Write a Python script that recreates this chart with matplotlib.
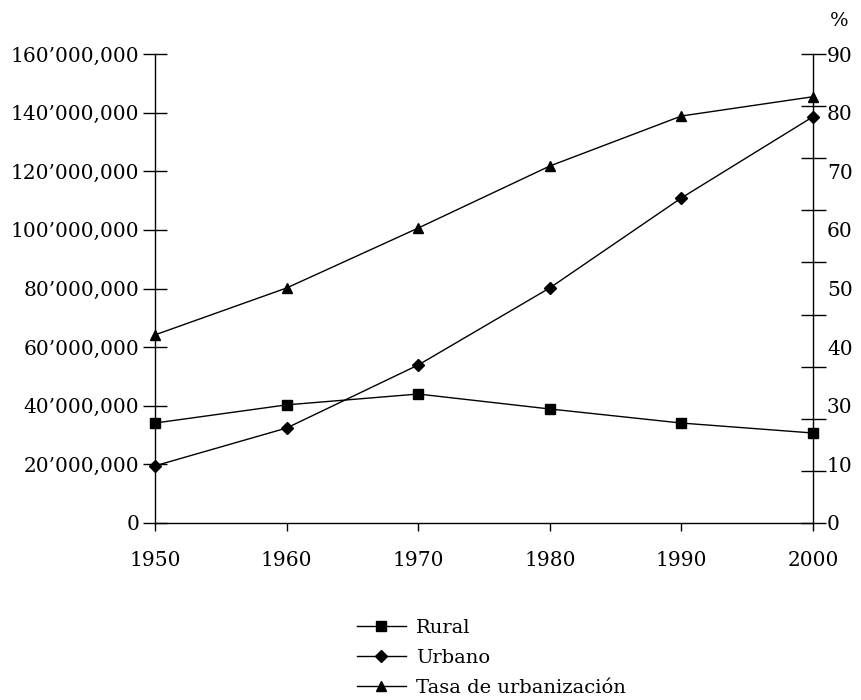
import numpy as np
import matplotlib
matplotlib.use("Agg")
import matplotlib.pyplot as plt
from matplotlib.ticker import FuncFormatter, FixedLocator, FixedFormatter, NullFormatter

plt.rcParams['font.family'] = ['DejaVu Serif']
plt.rcParams['font.size'] = 14.5

years = [1950, 1960, 1970, 1980, 1990, 2000]
rural = [34.1e6, 40.3e6, 44.0e6, 38.9e6, 34.1e6, 30.7e6]
urbano = [19.5e6, 32.4e6, 53.9e6, 80.2e6, 110.9e6, 138.6e6]
tasa = [36.1, 45.1, 56.6, 68.5, 78.1, 81.8]

left_ticks = np.arange(0, 160e6 + 1, 20e6)
right_ticks = np.arange(0, 91, 10)
# labels printed on the right side (as in the source, "20" is missing)
right_labels = ['0', '10', '30', '40', '50', '60', '70', '80', '90']

fig = plt.figure(figsize=(8.62, 7), dpi=100)
ax = fig.add_axes([155 / 862, 1 - 523 / 700, (813 - 155) / 862, (523 - 54) / 700])
ax2 = ax.twinx()

lw = 1.0
l1, = ax.plot(years, rural, color='black', lw=lw, marker='s', ms=6.5, clip_on=False, zorder=3, label='Rural')
l2, = ax.plot(years, urbano, color='black', lw=lw, marker='D', ms=6, clip_on=False, zorder=3, label='Urbano')
l3, = ax2.plot(years, tasa, color='black', lw=lw, marker='^', ms=7.5, clip_on=False, zorder=3,
               label='Tasa de urbanización')

ax.set_xlim(1950, 2000)
ax.set_ylim(0, 160e6)
ax2.set_ylim(0, 90)
ax.set_xticks(years)

ax.yaxis.set_major_locator(FixedLocator(left_ticks))
ax.yaxis.set_major_formatter(FuncFormatter(
    lambda v, p: '0' if v == 0 else '{:,}'.format(int(v)).replace(',', '’', 1)))

# right side: labels sit at the left-axis positions, tick marks at every 10 %
ax2.yaxis.remove_overlapping_locs = False
ax2.yaxis.set_major_locator(FixedLocator(np.arange(len(right_labels)) * 90 / 8))
ax2.yaxis.set_major_formatter(FixedFormatter(right_labels))
ax2.yaxis.set_minor_locator(FixedLocator(right_ticks))
ax2.yaxis.set_minor_formatter(NullFormatter())

for a in (ax, ax2):
    a.spines['top'].set_visible(False)
    for s in a.spines.values():
        s.set_linewidth(1.0)
ax2.spines['left'].set_visible(False)
ax2.spines['bottom'].set_visible(False)
ax.spines['right'].set_visible(False)

ax.tick_params(axis='y', direction='inout', length=17, width=1.0, pad=3)
ax.tick_params(axis='x', direction='out', length=6, width=1.0, pad=14)
ax2.tick_params(axis='y', which='minor', direction='inout', length=18, width=1.0)
ax2.tick_params(axis='y', which='major', length=0, pad=10)

ax2.text(1.04, 1.07, '%', transform=ax2.transAxes, ha='center', va='center', fontsize=14)

fig.legend(handles=[l1, l2, l3], loc='upper left', bbox_to_anchor=(357 / 862, 1 - 619 / 700),
           frameon=False, borderpad=0, borderaxespad=0, handlelength=2.5, handletextpad=0.55,
           labelspacing=0.62, fontsize=14)

fig.savefig('out.png', dpi=100)
